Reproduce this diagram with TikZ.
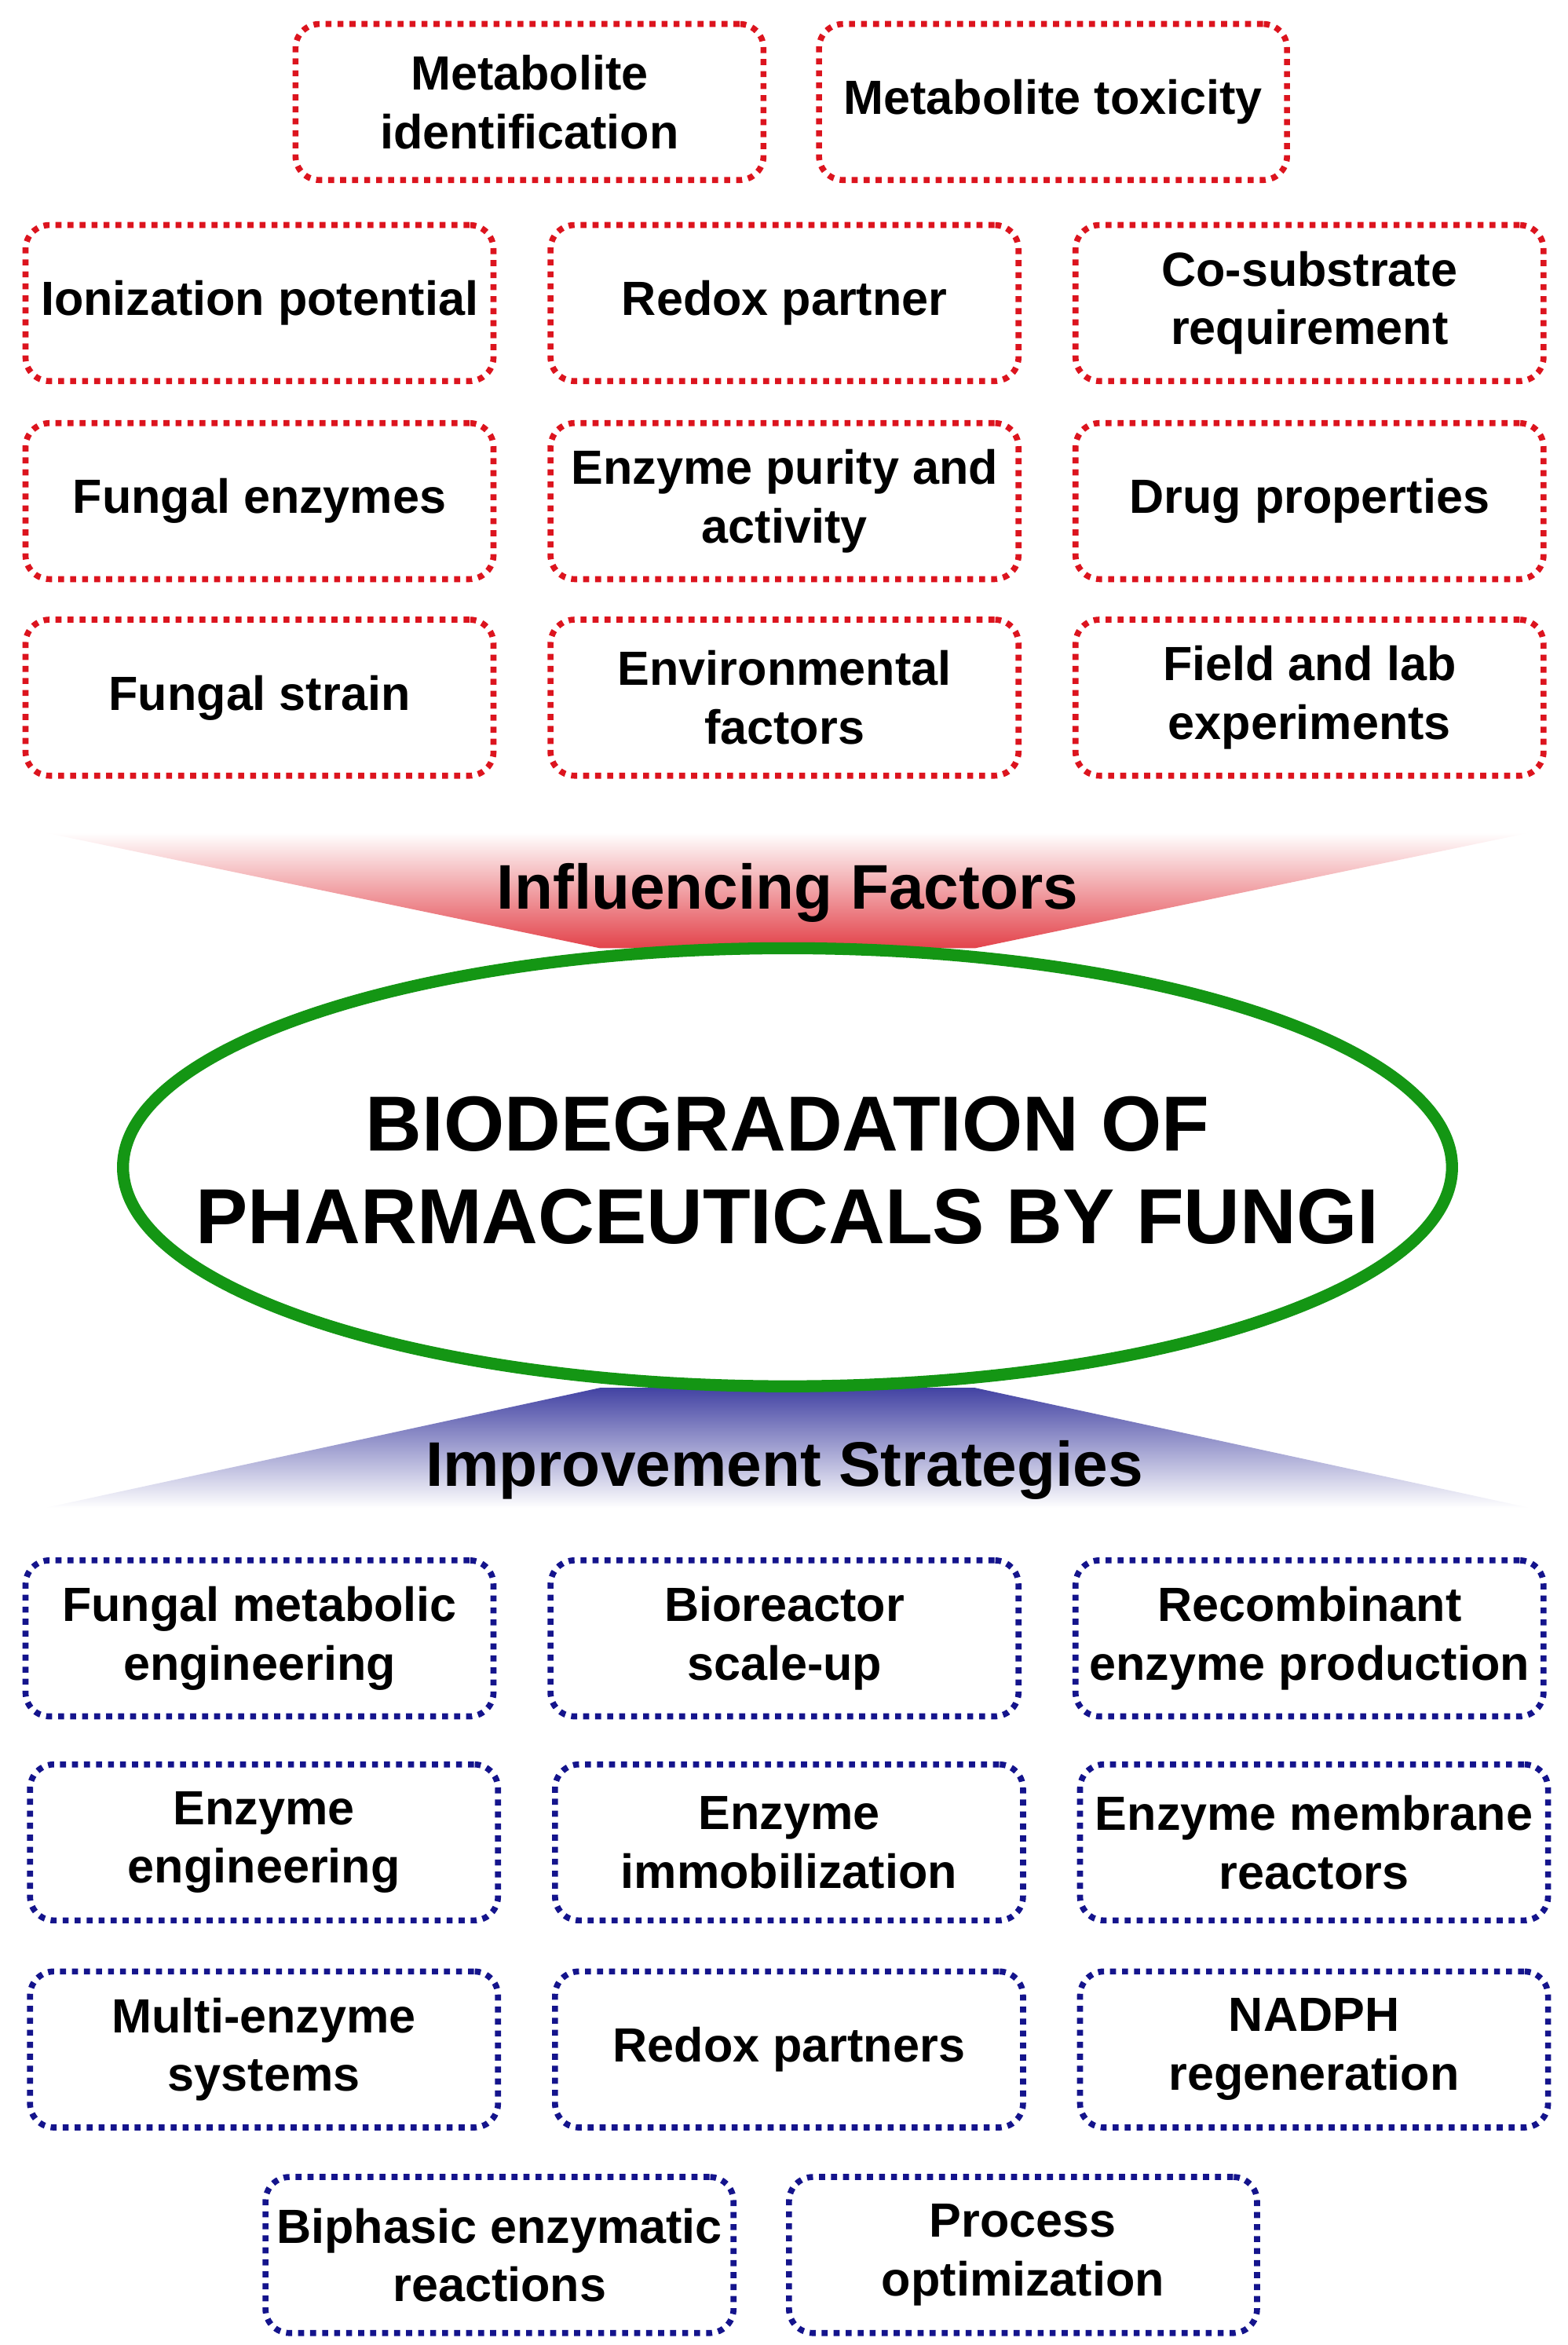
\documentclass[tikz,border=0pt]{standalone}
\usepackage{fontspec}
\setmainfont{Liberation Sans}
\usetikzlibrary{shapes.geometric,positioning}
\definecolor{factred}{RGB}{220,20,30}
\definecolor{stratblue}{RGB}{20,20,140}
\definecolor{coregreen}{RGB}{20,150,20}

\begin{document}
\begin{tikzpicture}[
      x=0.5pt, y=-0.5pt,
      every text node part/.style={align=center},
      box/.style={
        rectangle,
        rounded corners=8pt,
        line width=2pt,
        dash pattern=on 2pt off 2pt,
        minimum width=156pt,
        minimum height=52pt,
        inner sep=1pt,
        font=\bfseries\fontsize{16}{19.5}\selectfont
      },
      factor/.style={box, draw=factred},
      strategy/.style={box, draw=stratblue},
      heading/.style={font=\bfseries\fontsize{21}{24}\selectfont}
    ]
    \useasboundingbox (0,0) rectangle (1045,1563);

    % fans
    \shade[top color=white, bottom color=factred!80]
      (30,555) -- (1020,555) -- (650,632) -- (400,632) -- cycle;
    \shade[top color=stratblue!80, bottom color=white]
      (400,925) -- (650,925) -- (1020,1005) -- (30,1005) -- cycle;
    \node[heading] (Influence) at (525,595) {Influencing Factors};
    \node[heading] (Improve) at (523,980) {Improvement Strategies};

    % core
    \draw[coregreen, line width=4pt, fill=white] (525,778) ellipse [x radius=443, y radius=146];
    \node[font=\bfseries\fontsize{26}{31}\selectfont]
      (Core) at (525,780)
      {BIODEGRADATION OF\\PHARMACEUTICALS BY FUNGI};

    % influencing factors
    \node[factor] (MetId) at (353,68) {Metabolite\\identification};
    \node[factor] (MetTox) at (702,68) {Metabolite toxicity};
    \node[factor] (Ion) at (173,202) {Ionization potential};
    \node[factor] (Redox) at (523,202) {Redox partner};
    \node[factor] (CoSub) at (873,202) {Co-substrate\\requirement};
    \node[factor] (FunEnz) at (173,334) {Fungal enzymes};
    \node[factor] (Purity) at (523,334) {Enzyme purity and\\activity};
    \node[factor] (Drug) at (873,334) {Drug properties};
    \node[factor] (Strain) at (173,465) {Fungal strain};
    \node[factor] (Env) at (523,465) {Environmental\\factors};
    \node[factor] (Field) at (873,465) {Field and lab\\experiments};

    % improvement strategies
    \node[strategy] (Metab) at (173,1092) {Fungal metabolic\\engineering};
    \node[strategy] (Scale) at (523,1092) {Bioreactor\\scale-up};
    \node[strategy] (Recomb) at (873,1092) {Recombinant\\enzyme production};
    \node[strategy] (EnzEng) at (176,1228) {Enzyme\\engineering};
    \node[strategy] (Immob) at (526,1228) {Enzyme\\immobilization};
    \node[strategy] (Membr) at (876,1228) {Enzyme membrane\\reactors};
    \node[strategy] (Multi) at (176,1366) {Multi-enzyme\\systems};
    \node[strategy] (Partners) at (526,1366) {Redox partners};
    \node[strategy] (NADPH) at (876,1366) {NADPH\\regeneration};
    \node[strategy] (Biphasic) at (333,1503) {Biphasic enzymatic\\reactions};
    \node[strategy] (Process) at (682,1503) {Process\\optimization};
  \end{tikzpicture}
\end{document}
